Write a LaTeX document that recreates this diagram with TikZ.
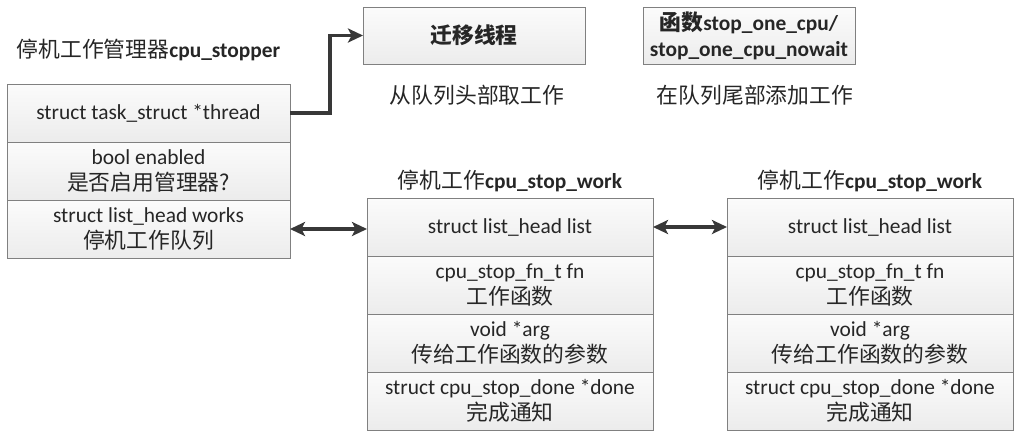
\documentclass[tikz,border=0pt]{standalone}
\usepackage{fontspec}
\setmainfont{Carlito}
\newfontfamily\cjk{Noto Sans CJK SC}
\usetikzlibrary{positioning,arrows.meta,calc}
\newcommand{\zh}[1]{{\cjk\fontsize{10.9}{13}\selectfont #1}}

\begin{document}
\begin{tikzpicture}[
		x=0.5pt, y=-0.5pt,
		font=\fontsize{10.7}{13}\selectfont,
		cell/.style={draw=black!50, line width=0.5pt, top color=gray!3,
				bottom color=gray!15, align=center, inner sep=0pt, outer sep=0pt,
				text=black!85, minimum height=29pt},
		lcell/.style={cell, minimum width=141.5pt},
		wcell/.style={cell, minimum width=143pt},
		title/.style={text=black!85, inner sep=0pt},
		arr/.style={-{Stealth[length=7.5pt, width=7pt, inset=1.8pt]},
				line width=1.6pt, draw=black!78},
		darr/.style={arr, {Stealth[length=7.5pt, width=7pt, inset=1.8pt]}-{Stealth[length=7.5pt, width=7pt, inset=1.8pt]}}
		]
		\useasboundingbox (0,0) rectangle (1022,440);
		% left: cpu_stopper
		\node[lcell, anchor=north] (thread) at (148.5,84)
		{struct task\_struct *thread};
		\node[lcell, below=0pt of thread] (enabled)
		{bool enabled\\ \zh{是否启用管理器?}};
		\node[lcell, below=0pt of enabled] (works)
		{struct list\_head works\\ \zh{停机工作队列}};
		\node[title] (stoptitle) at ($(thread.north)+(0,-34)$)
		{\zh{停机工作管理器}\textbf{cpu\_stopper}};
		% top: thread and enqueue functions
		\node[cell, minimum width=111pt, minimum height=28.5pt] (migrate) at (474,35.5)
		{\zh{\bfseries 迁移线程}};
		\node[cell, minimum width=106pt, minimum height=28.5pt] (func) at (749,35.5)
		{\zh{\bfseries 函数}\textbf{stop\_one\_cpu/}\\ \textbf{stop\_one\_cpu\_nowait}};
		\node[title] (takelbl) at ($(migrate.south)+(3,31)$) {\zh{从队列头部取工作}};
		\node[title] (addlbl) at ($(func.south)+(6,31)$) {\zh{在队列尾部添加工作}};
		% middle: first cpu_stop_work
		\node[wcell, anchor=north] (list1) at (510,198) {struct list\_head list};
		\node[wcell, below=0pt of list1] (fn1) {cpu\_stop\_fn\_t fn\\ \zh{工作函数}};
		\node[wcell, below=0pt of fn1] (arg1) {void *arg\\ \zh{传给工作函数的参数}};
		\node[wcell, below=0pt of arg1] (done1)
		{struct cpu\_stop\_done *done\\ \zh{完成通知}};
		\node[title] (worktitle1) at ($(list1.north)+(0,-17)$)
		{\zh{停机工作}\textbf{cpu\_stop\_work}};
		% right: second cpu_stop_work
		\node[wcell, anchor=north] (list2) at (870,198) {struct list\_head list};
		\node[wcell, below=0pt of list2] (fn2) {cpu\_stop\_fn\_t fn\\ \zh{工作函数}};
		\node[wcell, below=0pt of fn2] (arg2) {void *arg\\ \zh{传给工作函数的参数}};
		\node[wcell, below=0pt of arg2] (done2)
		{struct cpu\_stop\_done *done\\ \zh{完成通知}};
		\node[title] (worktitle2) at ($(list2.north)+(0,-17)$)
		{\zh{停机工作}\textbf{cpu\_stop\_work}};
		% arrows
		\draw[arr] (thread.east) -- ++(40,0) |- (migrate.west);
		\draw[darr] (works.east) -- (works.east -| list1.west);
		\draw[darr] (list1.east) -- (list2.west);
	\end{tikzpicture}
\end{document}
